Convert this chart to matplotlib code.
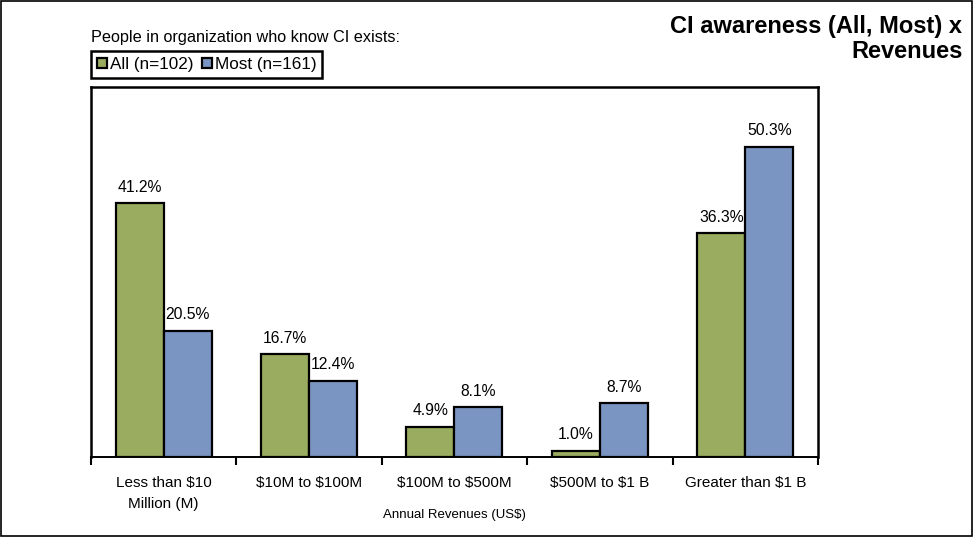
import numpy as np
import matplotlib.pyplot as plt
from matplotlib.patches import Rectangle

plt.rcParams["font.family"] = ["Liberation Sans", "DejaVu Sans"]
plt.rcParams["text.parse_math"] = False

categories = ["Less than $10\nMillion (M)", "$10M to $100M", "$100M to $500M",
              "$500M to $1 B", "Greater than $1 B"]
all_pct = [41.2, 16.7, 4.9, 1.0, 36.3]
most_pct = [20.5, 12.4, 8.1, 8.7, 50.3]
series_names = ["All (n=102)", "Most (n=161)"]

green = "#9AAC5F"
blue = "#7A95C1"

fig = plt.figure(figsize=(9.74, 5.38), dpi=100)
ax = fig.add_axes([0.0934, 0.1506, 0.7464, 0.6877])

x = np.arange(len(categories))
w = 0.33
b1 = ax.bar(x - w / 2, all_pct, w, color=green, edgecolor="black", linewidth=1.6, label=series_names[0])
b2 = ax.bar(x + w / 2, most_pct, w, color=blue, edgecolor="black", linewidth=1.6, label=series_names[1])

for bars, vals in ((b1, all_pct), (b2, most_pct)):
    for r, v in zip(bars, vals):
        ax.annotate(f"{v:.1f}%", (r.get_x() + r.get_width() / 2, v),
                    xytext=(0, 6), textcoords="offset points",
                    ha="center", va="bottom", fontsize=11.3)

ax.set_xlim(-0.5, len(categories) - 0.5)
ax.set_ylim(0, 60)
ax.set_yticks([])
ax.set_xticks(x)
ax.set_xticklabels(categories, fontsize=11, linespacing=1.7)
ax.tick_params(axis="x", which="major", length=0, pad=13.5)
ax.set_xticks(np.arange(-0.5, len(categories)), minor=True)
ax.tick_params(axis="x", which="minor", length=6, width=1.5, direction="out")
ax.set_xlabel("Annual Revenues (US$)", fontsize=9.5, labelpad=-2)

for s in ax.spines.values():
    s.set_linewidth(1.8)
ax.spines["bottom"].set_linewidth(1.4)

fig.text(0.0934, 0.931, "People in organization who know CI exists:", fontsize=11.7,
         ha="left", va="center")
leg = fig.legend(handles=[b1, b2], labels=series_names, loc="upper left",
                 bbox_to_anchor=(0.0934, 0.905), ncol=2, fontsize=12.3,
                 frameon=True, fancybox=False, edgecolor="black", framealpha=1,
                 handlelength=0.6, handleheight=0.6, handletextpad=0.15,
                 columnspacing=0.5, borderpad=0.35, borderaxespad=0)
leg.get_frame().set_linewidth(1.8)

fig.text(0.988, 0.972, "CI awareness (All, Most) x\nRevenues", fontsize=17,
         fontweight="bold", ha="right", va="top", linespacing=1.1)

fig.patches.append(Rectangle((0.001, 0.004), 0.997, 0.994, transform=fig.transFigure,
                             fill=False, edgecolor="black", linewidth=1.2))

fig.savefig("out.png", dpi=100)
